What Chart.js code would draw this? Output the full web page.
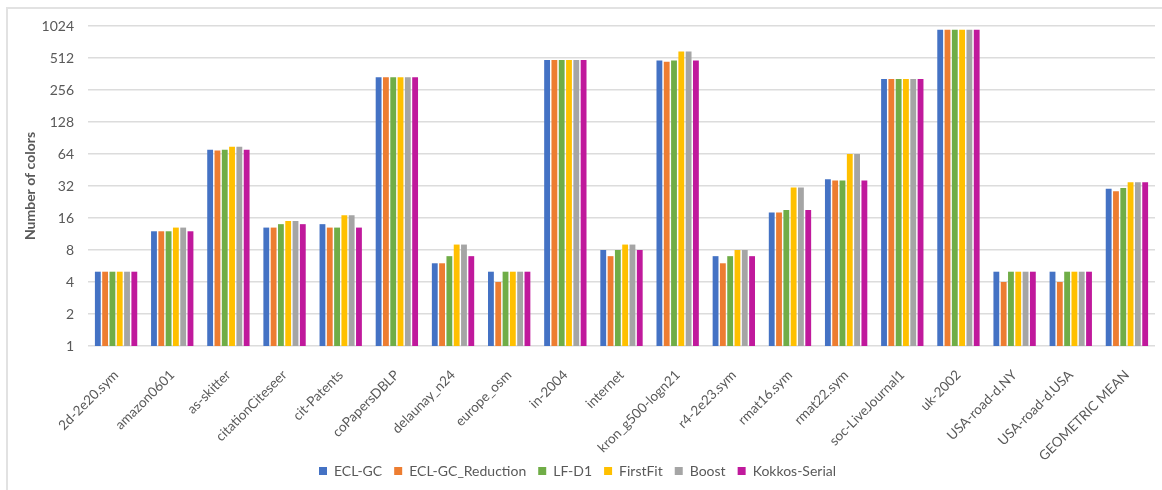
<!DOCTYPE html>
<html>
<head>
<meta charset="utf-8">
<script src="https://cdn.jsdelivr.net/npm/chart.js@4"></script>
<style>
  html, body { margin: 0; padding: 0; background: #fff; }
  #wrap { position: relative; width: 1162px; height: 490px; overflow: hidden; }
  #frame { position: absolute; left: 6px; top: 7px; right: -10px; bottom: -10px;
           border-left: 2px solid #e2e2e2; border-top: 2px solid #e2e2e2; }
  canvas { position: absolute; left: 0; top: 0; }
</style>
</head>
<body>
<div id="wrap">
  <div id="frame"></div>
  <canvas id="colorsChart" width="1162" height="490"></canvas>
</div>
<script>
/* ── Data ─────────────────────────────────────────── */
const graphs = ['2d-2e20.sym', 'amazon0601', 'as-skitter', 'citationCiteseer', 'cit-Patents',
    'coPapersDBLP', 'delaunay_n24', 'europe_osm', 'in-2004', 'internet', 'kron_g500-logn21',
    'r4-2e23.sym', 'rmat16.sym', 'rmat22.sym', 'soc-LiveJournal1', 'uk-2002',
    'USA-road-d.NY', 'USA-road-d.USA', 'GEOMETRIC MEAN'];

const eclGc        = [5, 12, 70, 13, 14, 337, 6, 5, 489, 8, 485, 7, 18, 37, 325, 944, 5, 5, 30.1];
const eclGcReduct  = [5, 12, 69, 13, 13, 337, 6, 4, 489, 7, 472, 6, 18, 36, 325, 944, 4, 4, 28.5];
const lfD1         = [5, 12, 70, 14, 13, 337, 7, 5, 489, 8, 486, 7, 19, 36, 325, 944, 5, 5, 30.6];
const firstFit     = [5, 13, 75, 15, 17, 337, 9, 5, 489, 9, 588, 8, 31, 64, 325, 944, 5, 5, 34.7];
const boost        = [5, 13, 75, 15, 17, 337, 9, 5, 489, 9, 588, 8, 31, 64, 325, 944, 5, 5, 34.7];
const kokkosSerial = [5, 12, 70, 14, 13, 337, 7, 5, 489, 8, 485, 7, 19, 36, 325, 944, 5, 5, 34.7];

const yTicks = [1, 2, 4, 8, 16, 32, 64, 128, 256, 512, 1024];

const textColor = '#595959';
const fontFamily = 'Lato, "Open Sans", sans-serif';

function series(label, data, color) {
    return { label: label, data: data, backgroundColor: color, borderWidth: 0 };
}

new Chart(document.getElementById('colorsChart'), {
    type: 'bar',
    data: {
        labels: graphs,
        datasets: [
            series('ECL-GC', eclGc, '#4472C4'),
            series('ECL-GC_Reduction', eclGcReduct, '#ED7D31'),
            series('LF-D1', lfD1, '#70AD47'),
            series('FirstFit', firstFit, '#FFC000'),
            series('Boost', boost, '#A5A5A5'),
            series('Kokkos-Serial', kokkosSerial, '#C0199C')
        ]
    },
    options: {
        responsive: false,
        animation: false,
        layout: { padding: { top: 26, right: 7, left: 0, bottom: 2 } },
        datasets: { bar: { categoryPercentage: 0.78, barPercentage: 0.8 } },
        plugins: {
            legend: {
                position: 'bottom',
                labels: {
                    boxWidth: 8, boxHeight: 8, padding: 12,
                    color: textColor,
                    font: { family: fontFamily, size: 14 }
                }
            },
            tooltip: { enabled: false }
        },
        scales: {
            x: {
                grid: { display: false },
                border: { display: false },
                ticks: {
                    color: textColor, minRotation: 45, maxRotation: 45, autoSkip: false,
                    padding: 13,
                    font: { family: fontFamily, size: 13.5 }
                },
                afterFit: s => {
                    s.height = 106;
                    // long rotated labels run a bit past the axis box, don't clip them
                    s._computeLabelArea = () => undefined;
                }
            },
            y: {
                type: 'logarithmic',
                min: 1, max: 1024,
                border: { display: false },
                grid: { color: '#dcdcdc', lineWidth: 1.5, drawTicks: false },
                afterBuildTicks: s => { s.ticks = yTicks.map(v => ({ value: v })); },
                afterFit: s => { s.width = 88; },
                ticks: {
                    color: textColor, padding: 14,
                    font: { family: fontFamily, size: 14 },
                    callback: v => String(v)
                },
                title: {
                    display: true, text: 'Number of colors', color: textColor,
                    padding: { top: 22, bottom: 0 },
                    font: { family: fontFamily, size: 14, weight: 'bold' }
                }
            }
        }
    }
});
</script>
</body>
</html>
